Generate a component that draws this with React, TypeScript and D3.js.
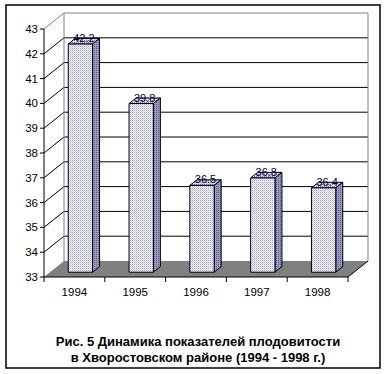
import React from "react";
import * as d3 from "d3";

// Данные графика
const years = ["1994", "1995", "1996", "1997", "1998"];
const values = [42.2, 39.8, 36.5, 36.8, 36.4];
const yTicks = [33, 34, 35, 36, 37, 38, 39, 40, 41, 42, 43];
const titleLines = [
  "Рис. 5 Динамика показателей плодовитости",
  "в Хворостовском районе (1994 - 1998 г.)",
];

const W = 387;
const H = 374;
// глубина 3D-области
const DX = 20;
const DY = -16;

export default function App() {
  const x = d3.scaleBand<string>().domain(years).range([44, 348]).padding(0);
  const y = d3.scaleLinear().domain([33, 43]).range([277, 29]);
  const bw = x.bandwidth();
  const barW = bw * 0.4;
  const f0 = 0.3; // передняя грань столбика по глубине
  const f1 = 0.65; // задняя
  const bdx = (f1 - f0) * DX;
  const bdy = (f1 - f0) * DY;

  const x0 = x.range()[0];
  const x1 = x.range()[1];
  const yb = y(33);
  const yt = y(43);
  const font = "Arial, 'Liberation Sans', sans-serif";

  return (
    <svg width={W} height={H} style={{ position: "absolute", left: 0, top: 0, background: "#fff" }}>
      <defs>
        <pattern id="front" width={2} height={2} patternUnits="userSpaceOnUse">
          <rect width={2} height={2} fill="#ffffff" />
          <rect width={1} height={1} fill="#9a9aff" />
          <rect x={1} y={1} width={1} height={1} fill="#c8c8ff" />
        </pattern>
        <pattern id="side" width={2} height={2} patternUnits="userSpaceOnUse">
          <rect width={2} height={2} fill="#9a9ac0" />
          <rect width={1} height={1} fill="#5c5c88" />
        </pattern>
        <pattern id="top" width={2} height={2} patternUnits="userSpaceOnUse">
          <rect width={2} height={2} fill="#d6d6ee" />
          <rect width={1} height={1} fill="#7a7aa8" />
        </pattern>
      </defs>

      {/* рамка */}
      <rect x={6} y={5} width={374} height={363} fill="#fff" stroke="#000" strokeWidth={1.5} />

      {/* пол */}
      <polygon
        points={`${x0},${yb} ${x1},${yb} ${x1 + DX},${yb + DY} ${x0 + DX},${yb + DY}`}
        fill="#808080"
      />

      {/* сетка задней стенки и левой стенки */}
      {yTicks.map((t) => {
        if (t === 33) return null;
        const c = t === 43 ? "#808080" : "#000";
        return (
          <g key={t}>
            <line x1={x0} y1={y(t)} x2={x0 + DX} y2={y(t) + DY} stroke={c} strokeWidth={1} />
            <line x1={x0 + DX} y1={y(t) + DY} x2={x1 + DX} y2={y(t) + DY} stroke={c} strokeWidth={1} />
          </g>
        );
      })}
      <line x1={x0 + DX} y1={yt + DY} x2={x0 + DX} y2={yb + DY} stroke="#808080" />
      <line x1={x1 + DX} y1={yt + DY} x2={x1 + DX} y2={yb + DY} stroke="#808080" />
      <line x1={x1} y1={yb} x2={x1 + DX} y2={yb + DY} stroke="#000" />

      {/* столбики */}
      {years.map((yr, i) => {
        const v = values[i];
        const cx = (x(yr) ?? 0) + bw / 2 + f0 * DX;
        const l = cx - barW / 2;
        const r = cx + barW / 2;
        const top = y(v) + f0 * DY;
        const bot = yb + f0 * DY;
        return (
          <g key={yr} stroke="#000" strokeWidth={1} strokeLinejoin="round">
            <polygon points={`${l},${top} ${r},${top} ${r + bdx},${top + bdy} ${l + bdx},${top + bdy}`} fill="url(#top)" />
            <polygon points={`${r},${top} ${r + bdx},${top + bdy} ${r + bdx},${bot + bdy} ${r},${bot}`} fill="url(#side)" />
            <rect x={l} y={top} width={barW} height={bot - top} fill="url(#front)" />
            <text
              x={cx + bdx / 2}
              y={top - 2}
              textAnchor="middle"
              fontFamily={font}
              fontSize={11}
              fill="#000033"
              stroke="none"
            >
              {v.toFixed(1)}
            </text>
          </g>
        );
      })}

      {/* ось Y */}
      <line x1={x0} y1={yt} x2={x0} y2={yb} stroke="#000" />
      {yTicks.map((t) => (
        <g key={t}>
          <line x1={x0 - 4} y1={y(t)} x2={x0} y2={y(t)} stroke="#000" />
          <text x={x0 - 6} y={y(t) + 4} textAnchor="end" fontFamily={font} fontSize={11.5} fill="#000">
            {t}
          </text>
        </g>
      ))}

      {/* ось X */}
      <line x1={x0} y1={yb} x2={x1} y2={yb} stroke="#000" />
      {[...years.map((yr) => x(yr) ?? 0), x1].map((tx, i) => (
        <line key={i} x1={tx} y1={yb} x2={tx} y2={yb + 5} stroke="#000" />
      ))}
      {years.map((yr) => (
        <text
          key={yr}
          x={(x(yr) ?? 0) + bw / 2}
          y={296}
          textAnchor="middle"
          fontFamily={font}
          fontSize={11.5}
          fill="#000"
        >
          {yr}
        </text>
      ))}

      {/* подпись */}
      {titleLines.map((s, i) => (
        <text
          key={i}
          x={198}
          y={346 + i * 16}
          textAnchor="middle"
          fontFamily={font}
          fontSize={13}
          fontWeight="bold"
          fill="#000"
        >
          {s}
        </text>
      ))}
    </svg>
  );
}
